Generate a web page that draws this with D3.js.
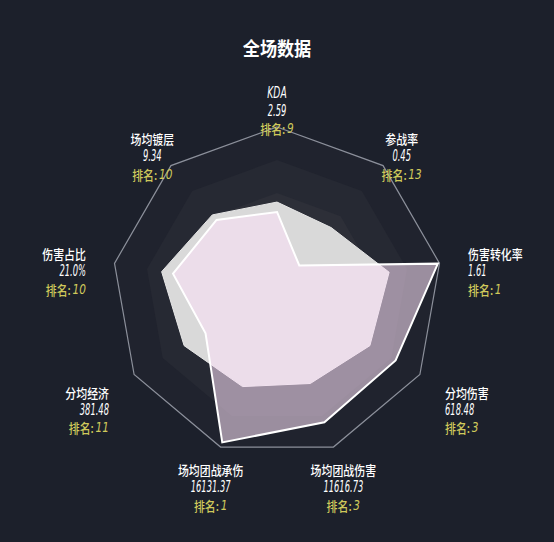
<!DOCTYPE html>
<html>
<head>
<meta charset="utf-8">
<script src="https://cdn.jsdelivr.net/npm/d3@7"></script>
<style>
    html, body { margin: 0; padding: 0; background: #1c202b; }
    svg { display: block; }
</style>
</head>
<body>
<div id="chart"></div>
<script>
// axes clockwise from the top
const axisNames = ['KDA', '参战率', '伤害转化率', '分均伤害', '场均团战伤害', '场均团战承伤', '分均经济', '伤害占比', '场均镀层']
const axisValues = ['2.59', '0.45', '1.61', '618.48', '11616.73', '16131.37', '381.48', '21.0%', '9.34']
const axisRanks = [9, 13, 1, 3, 3, 1, 11, 10, 10]
// normalised scores 0..1
const playerScores = [0.485, 0.21, 0.99, 0.83, 0.84, 0.97, 0.50, 0.64, 0.57]
const averageScores = [0.545, 0.51, 0.69, 0.65, 0.59, 0.61, 0.65, 0.71, 0.61]
const gridLevels = [1.0, 0.8, 0.6, 0.4, 0.2]

const width = 554
const height = 542
const cx = 277
const cy = 292
const R = 165
const n = axisNames.length

const svg = d3.select('#chart').append('svg')
    .attr('width', width)
    .attr('height', height)

svg.append('rect')
    .attr('width', width)
    .attr('height', height)
    .attr('fill', '#1c202b')

svg.append('text')
    .attr('transform', `translate(${width / 2},48) scale(0.9,1)`)
    .attr('text-anchor', 'middle')
    .attr('dominant-baseline', 'central')
    .attr('fill', '#ffffff')
    .attr('font-family', "'Noto Sans CJK SC', sans-serif")
    .attr('font-weight', 'bold')
    .attr('font-size', '19px')
    .text('全场数据')

const r = d3.scaleLinear().domain([0, 1]).range([0, R])
const angle = d3.scaleLinear().domain([0, n]).range([0, 2 * Math.PI])

const g = svg.append('g').attr('transform', `translate(${cx},${cy})`)

const radial = d3.lineRadial()
    .angle((d, i) => angle(i))
    .radius(d => r(d))
    .curve(d3.curveLinearClosed)

const bandColor = d3.interpolateRgb('#20232e', '#393a41')

// background rings, outer first
g.selectAll('path.band')
    .data(gridLevels)
    .join('path')
    .attr('class', 'band')
    .attr('d', lv => radial(d3.range(n).map(() => lv)))
    .attr('fill', (lv, i) => bandColor(i / (gridLevels.length - 1)))
    .attr('stroke', (lv, i) => i === 0 ? '#8c909b' : 'none')
    .attr('stroke-width', 1.2)

g.append('path')
    .attr('d', radial(averageScores))
    .attr('fill', '#d9d9d9')
    .attr('stroke', '#e6e6e6')
    .attr('stroke-width', 1)

g.append('path')
    .attr('d', radial(playerScores))
    .attr('fill', 'rgb(250,224,246)')
    .attr('fill-opacity', 0.57)
    .attr('stroke', '#ffffff')
    .attr('stroke-width', 2)
    .attr('stroke-linejoin', 'miter')

// axis labels
const cjkFont = "'Noto Sans CJK SC', sans-serif"
const numFont = "'DejaVu Sans Condensed', 'DejaVu Sans', sans-serif"
const lineGap = 17.5
const labelDist = R + 29

axisNames.forEach((name, i) => {
    const a = angle(i)
    const sx = Math.sin(a)
    const cs = Math.cos(a)
    const px = labelDist * sx
    const py = -labelDist * cs
    const side = Math.abs(sx) > 0.8
    let anchor = 'middle'
    if (side) anchor = sx > 0 ? 'start' : 'end'
    let y0 = py - 5
    if (side && cs < 0) y0 += 8

    const lab = g.append('g').attr('text-anchor', anchor)
    const isLatin = name === 'KDA'

    lab.append('text')
        .attr('transform', `translate(${px},${y0}) scale(${isLatin ? 0.68 : 0.84},1)`)
        .attr('dominant-baseline', 'central')
        .attr('fill', '#ffffff')
        .attr('font-family', isLatin ? numFont : cjkFont)
        .attr('font-style', isLatin ? 'italic' : 'normal')
        .attr('font-weight', 500)
        .attr('font-size', isLatin ? '15px' : '13px')
        .text(name)

    lab.append('text')
        .attr('transform', `translate(${px},${y0 + lineGap}) scale(0.62,1)`)
        .attr('dominant-baseline', 'central')
        .attr('fill', '#ffffff')
        .attr('font-family', numFont)
        .attr('font-style', 'italic')
        .attr('font-size', '15px')
        .text(axisValues[i])

    const rank = lab.append('text')
        .attr('transform', `translate(${px},${y0 + 2 * lineGap}) scale(0.84,1)`)
        .attr('dominant-baseline', 'central')
        .attr('fill', '#cfc95b')
        .attr('font-size', '13px')
    rank.append('tspan')
        .attr('font-family', cjkFont)
        .attr('font-weight', 500)
        .text('排名:')
    rank.append('tspan')
        .attr('font-family', numFont)
        .attr('font-style', 'italic')
        .attr('font-size', '14px')
        .attr('dx', 2)
        .text(axisRanks[i])
})
</script>
</body>
</html>
